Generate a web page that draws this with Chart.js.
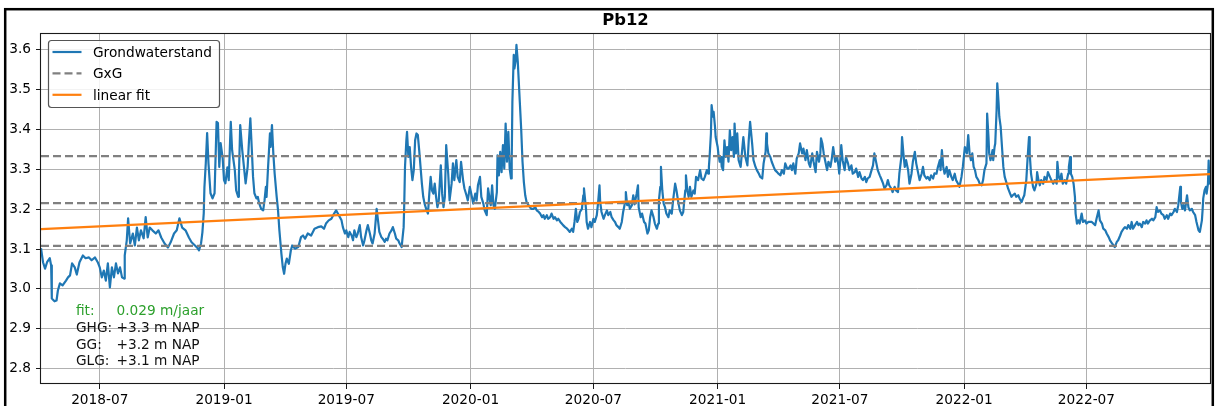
<!DOCTYPE html>
<html>
<head>
<meta charset="utf-8">
<title>Pb12</title>
<script src="https://cdn.jsdelivr.net/npm/chart.js@4.4.1/dist/chart.umd.min.js"></script>
<style>
  html, body { margin: 0; padding: 0; background: #fff; }
  #wrap { position: relative; width: 1215px; height: 406px; overflow: hidden; }
</style>
</head>
<body>
<div id="wrap"><canvas id="chart" width="1215" height="406"></canvas></div>
<script>
(function () {
  'use strict';

  var title = 'Pb12';

  // groundwater level readings (m NAP)
  var dates = [
    '2018-04-05','2018-04-08','2018-04-11','2018-04-14','2018-04-18','2018-04-20','2018-04-21','2018-04-25','2018-04-28','2018-04-30',
    '2018-05-03','2018-05-07','2018-05-12','2018-05-15','2018-05-18','2018-05-21','2018-05-25','2018-05-28',
    '2018-06-01','2018-06-06','2018-06-10','2018-06-15','2018-06-19','2018-06-24','2018-06-28',
    '2018-07-01','2018-07-04','2018-07-07','2018-07-10','2018-07-13','2018-07-16','2018-07-19','2018-07-22','2018-07-25','2018-07-28','2018-07-31',
    '2018-08-03','2018-08-06','2018-08-07','2018-08-10','2018-08-12','2018-08-15','2018-08-19','2018-08-22','2018-08-25','2018-08-28','2018-08-31',
    '2018-09-04','2018-09-07','2018-09-10','2018-09-13','2018-09-17','2018-09-22','2018-09-26','2018-09-30',
    '2018-10-05','2018-10-10','2018-10-14','2018-10-19','2018-10-23','2018-10-27','2018-10-31',
    '2018-11-05','2018-11-10','2018-11-14','2018-11-19','2018-11-22','2018-11-25','2018-11-28','2018-11-30',
    '2018-12-02','2018-12-03','2018-12-05','2018-12-07','2018-12-09','2018-12-12','2018-12-15','2018-12-18','2018-12-21','2018-12-23','2018-12-25','2018-12-27','2018-12-30',
    '2019-01-01','2019-01-03','2019-01-06','2019-01-08','2019-01-11','2019-01-13','2019-01-17','2019-01-19','2019-01-22','2019-01-23','2019-01-25','2019-01-28','2019-01-31',
    '2019-02-02','2019-02-05','2019-02-07','2019-02-09','2019-02-11','2019-02-13','2019-02-15','2019-02-18','2019-02-20','2019-02-22','2019-02-25','2019-02-28',
    '2019-03-02','2019-03-04','2019-03-05','2019-03-07','2019-03-10','2019-03-11','2019-03-13','2019-03-15','2019-03-17','2019-03-20','2019-03-22','2019-03-24','2019-03-27','2019-03-29','2019-03-31',
    '2019-04-02','2019-04-04','2019-04-07','2019-04-10','2019-04-12','2019-04-16','2019-04-21','2019-04-25','2019-04-28',
    '2019-05-01','2019-05-05','2019-05-10','2019-05-15','2019-05-20','2019-05-25','2019-05-29',
    '2019-06-01','2019-06-05','2019-06-09','2019-06-13','2019-06-16','2019-06-20','2019-06-24','2019-06-26','2019-06-29',
    '2019-07-01','2019-07-04','2019-07-06','2019-07-09','2019-07-11','2019-07-13','2019-07-16','2019-07-18','2019-07-21','2019-07-23','2019-07-26','2019-07-28','2019-07-31',
    '2019-08-02','2019-08-05','2019-08-07','2019-08-09','2019-08-12','2019-08-15','2019-08-17','2019-08-19','2019-08-22','2019-08-24','2019-08-27','2019-08-29','2019-08-31',
    '2019-09-03','2019-09-06','2019-09-08','2019-09-11','2019-09-13','2019-09-16','2019-09-18','2019-09-21','2019-09-22','2019-09-24','2019-09-25','2019-09-26','2019-09-28','2019-09-29',
    '2019-10-01','2019-10-03','2019-10-05','2019-10-07','2019-10-09','2019-10-11','2019-10-13','2019-10-15','2019-10-17','2019-10-19','2019-10-21','2019-10-23','2019-10-25','2019-10-28','2019-10-30',
    '2019-11-01','2019-11-03','2019-11-05','2019-11-07','2019-11-09','2019-11-11','2019-11-13','2019-11-15','2019-11-18','2019-11-20','2019-11-22','2019-11-24','2019-11-26','2019-11-29',
    '2019-12-01','2019-12-04','2019-12-06','2019-12-08','2019-12-11','2019-12-13','2019-12-16','2019-12-18','2019-12-21','2019-12-23','2019-12-26','2019-12-28','2019-12-31',
    '2020-01-03','2020-01-05','2020-01-08','2020-01-10','2020-01-12','2020-01-15','2020-01-17','2020-01-20','2020-01-22','2020-01-25','2020-01-27','2020-01-30','2020-01-31',
    '2020-02-02','2020-02-04','2020-02-06','2020-02-09','2020-02-10','2020-02-12','2020-02-14','2020-02-16','2020-02-18','2020-02-20','2020-02-22','2020-02-24','2020-02-26','2020-02-28',
    '2020-03-01','2020-03-02','2020-03-03','2020-03-05','2020-03-06','2020-03-08','2020-03-09','2020-03-11','2020-03-12','2020-03-14','2020-03-16','2020-03-18','2020-03-20','2020-03-22','2020-03-24','2020-03-27','2020-03-29','2020-03-31',
    '2020-04-03','2020-04-06','2020-04-08','2020-04-11','2020-04-13','2020-04-16','2020-04-18','2020-04-20','2020-04-23','2020-04-25','2020-04-28','2020-04-30',
    '2020-05-03','2020-05-05','2020-05-08','2020-05-10','2020-05-13','2020-05-15','2020-05-17','2020-05-20','2020-05-23','2020-05-25','2020-05-27','2020-05-30',
    '2020-06-01','2020-06-03','2020-06-05','2020-06-07','2020-06-09','2020-06-11','2020-06-14','2020-06-16','2020-06-17','2020-06-20','2020-06-21','2020-06-23','2020-06-26','2020-06-28',
    '2020-07-01','2020-07-03','2020-07-06','2020-07-08','2020-07-10','2020-07-11','2020-07-13','2020-07-16','2020-07-18','2020-07-21','2020-07-23','2020-07-26','2020-07-28','2020-07-31',
    '2020-08-02','2020-08-04','2020-08-07','2020-08-09','2020-08-12','2020-08-14','2020-08-17','2020-08-18','2020-08-20','2020-08-22','2020-08-24','2020-08-27','2020-08-29','2020-08-31',
    '2020-09-03','2020-09-05','2020-09-06','2020-09-09','2020-09-11','2020-09-14','2020-09-16','2020-09-19','2020-09-21','2020-09-23','2020-09-25','2020-09-28','2020-09-30',
    '2020-10-03','2020-10-05','2020-10-06','2020-10-08','2020-10-09','2020-10-11','2020-10-13','2020-10-15','2020-10-17','2020-10-20','2020-10-22','2020-10-25','2020-10-27','2020-10-30',
    '2020-11-01','2020-11-04','2020-11-06','2020-11-09','2020-11-11','2020-11-14','2020-11-15','2020-11-17','2020-11-19','2020-11-21','2020-11-23','2020-11-26','2020-11-28','2020-11-30',
    '2020-12-03','2020-12-06','2020-12-08','2020-12-11','2020-12-13','2020-12-16','2020-12-18','2020-12-19','2020-12-20','2020-12-22','2020-12-23','2020-12-25','2020-12-26','2020-12-28','2020-12-29',
    '2021-01-01','2021-01-02','2021-01-04','2021-01-06','2021-01-07','2021-01-09','2021-01-11','2021-01-13','2021-01-15','2021-01-17','2021-01-19','2021-01-21','2021-01-23','2021-01-25','2021-01-26','2021-01-28','2021-01-30',
    '2021-02-01','2021-02-04','2021-02-06','2021-02-08','2021-02-11','2021-02-14','2021-02-16','2021-02-18','2021-02-21','2021-02-23','2021-02-26','2021-02-28',
    '2021-03-03','2021-03-05','2021-03-08','2021-03-10','2021-03-13','2021-03-14','2021-03-15','2021-03-17','2021-03-20','2021-03-22','2021-03-25','2021-03-27','2021-03-30',
    '2021-04-01','2021-04-04','2021-04-06','2021-04-09','2021-04-11','2021-04-14','2021-04-16','2021-04-19','2021-04-21','2021-04-23','2021-04-26','2021-04-28',
    '2021-05-01','2021-05-03','2021-05-06','2021-05-08','2021-05-11','2021-05-13','2021-05-16','2021-05-18','2021-05-21','2021-05-23','2021-05-26','2021-05-28','2021-05-31',
    '2021-06-02','2021-06-03','2021-06-05','2021-06-07','2021-06-09','2021-06-12','2021-06-14','2021-06-17','2021-06-19','2021-06-21','2021-06-23','2021-06-24','2021-06-27','2021-06-29','2021-06-30',
    '2021-07-02','2021-07-03','2021-07-05','2021-07-08','2021-07-10','2021-07-13','2021-07-15','2021-07-18','2021-07-20','2021-07-23','2021-07-25','2021-07-28','2021-07-30',
    '2021-08-02','2021-08-04','2021-08-07','2021-08-09','2021-08-11','2021-08-14','2021-08-16','2021-08-19','2021-08-21','2021-08-24','2021-08-26','2021-08-29','2021-08-31',
    '2021-09-03','2021-09-05','2021-09-08','2021-09-10','2021-09-12','2021-09-15','2021-09-17','2021-09-20','2021-09-22','2021-09-25','2021-09-27','2021-09-30',
    '2021-10-01','2021-10-03','2021-10-05','2021-10-07','2021-10-10','2021-10-12','2021-10-15','2021-10-17','2021-10-20','2021-10-22','2021-10-24','2021-10-27','2021-10-30',
    '2021-11-01','2021-11-03','2021-11-06','2021-11-08','2021-11-11','2021-11-13','2021-11-16','2021-11-18','2021-11-21','2021-11-23','2021-11-26','2021-11-27','2021-11-29',
    '2021-12-01','2021-12-03','2021-12-06','2021-12-08','2021-12-10','2021-12-13','2021-12-15','2021-12-18','2021-12-20','2021-12-23','2021-12-25','2021-12-28','2021-12-30',
    '2022-01-02','2022-01-05','2022-01-07','2022-01-09','2022-01-11','2022-01-13','2022-01-15','2022-01-17','2022-01-19','2022-01-22','2022-01-24','2022-01-27','2022-01-29','2022-01-31',
    '2022-02-03','2022-02-04','2022-02-06','2022-02-07','2022-02-09','2022-02-10','2022-02-12','2022-02-13','2022-02-15','2022-02-16','2022-02-18','2022-02-19','2022-02-21','2022-02-22','2022-02-24','2022-02-26','2022-02-28',
    '2022-03-02','2022-03-05','2022-03-07','2022-03-10','2022-03-12','2022-03-14','2022-03-17','2022-03-19','2022-03-22','2022-03-24','2022-03-27','2022-03-29','2022-03-31',
    '2022-04-03','2022-04-05','2022-04-07','2022-04-08','2022-04-10','2022-04-13','2022-04-15','2022-04-18','2022-04-19','2022-04-21','2022-04-23','2022-04-25','2022-04-28','2022-04-30',
    '2022-05-03','2022-05-05','2022-05-08','2022-05-10','2022-05-13','2022-05-15','2022-05-18','2022-05-19','2022-05-21','2022-05-23','2022-05-25','2022-05-27','2022-05-30',
    '2022-06-01','2022-06-04','2022-06-05','2022-06-07','2022-06-08','2022-06-10','2022-06-12','2022-06-14','2022-06-15','2022-06-17','2022-06-19','2022-06-21','2022-06-24','2022-06-26','2022-06-29',
    '2022-07-01','2022-07-04','2022-07-09','2022-07-14','2022-07-16','2022-07-19','2022-07-21','2022-07-24','2022-07-26','2022-07-29','2022-07-31',
    '2022-08-03','2022-08-05','2022-08-08','2022-08-10','2022-08-12','2022-08-15','2022-08-17','2022-08-20','2022-08-22','2022-08-25','2022-08-27','2022-08-30',
    '2022-09-01','2022-09-04','2022-09-06','2022-09-08','2022-09-11','2022-09-14','2022-09-16','2022-09-18','2022-09-21','2022-09-23','2022-09-26','2022-09-28','2022-09-30',
    '2022-10-03','2022-10-06','2022-10-08','2022-10-11','2022-10-13','2022-10-15','2022-10-18','2022-10-20','2022-10-23','2022-10-25','2022-10-28','2022-10-30',
    '2022-11-02','2022-11-04','2022-11-07','2022-11-09','2022-11-12','2022-11-14','2022-11-17','2022-11-18','2022-11-20','2022-11-22','2022-11-24','2022-11-27','2022-11-29',
    '2022-12-01','2022-12-04','2022-12-06','2022-12-09','2022-12-11','2022-12-14','2022-12-16','2022-12-19','2022-12-20','2022-12-21','2022-12-23','2022-12-25','2022-12-26','2022-12-28','2022-12-29','2022-12-30','2022-12-31'
  ];
  var levels = [
    3.102, 3.067, 3.051, 3.067, 3.077, 3.059, 2.976, 2.969, 2.971, 2.996,
    3.014, 3.009, 3.021, 3.029, 3.034, 3.064, 3.054, 3.036,
    3.067, 3.084, 3.077, 3.079, 3.072, 3.079, 3.067,
    3.054, 3.029, 3.046, 3.021, 3.064, 3.004, 3.054, 3.029, 3.064, 3.039, 3.054,
    3.029, 3.026, 3.084, 3.122, 3.177, 3.114, 3.139, 3.109, 3.154, 3.122, 3.147,
    3.127, 3.180, 3.129, 3.154, 3.147, 3.139, 3.147, 3.129,
    3.114, 3.104, 3.117, 3.139, 3.147, 3.177, 3.154,
    3.147, 3.129, 3.117, 3.109, 3.104, 3.097, 3.114, 3.142,
    3.190, 3.255, 3.315, 3.391, 3.315, 3.240, 3.227, 3.240, 3.419, 3.416, 3.306, 3.366, 3.328,
    3.273, 3.265, 3.305, 3.273, 3.419, 3.348, 3.298, 3.247, 3.231, 3.281, 3.411, 3.348, 3.298,
    3.265, 3.306, 3.373, 3.428, 3.356, 3.281, 3.240, 3.227, 3.231, 3.215, 3.201, 3.197,
    3.222, 3.256, 3.231, 3.298, 3.390, 3.356, 3.411, 3.340, 3.289, 3.231, 3.197, 3.147, 3.088, 3.055, 3.038,
    3.063, 3.076, 3.063, 3.097, 3.109, 3.101, 3.105, 3.130, 3.134,
    3.126, 3.139, 3.134, 3.151, 3.155, 3.157, 3.151,
    3.164, 3.172, 3.176, 3.189, 3.197, 3.185, 3.172, 3.155, 3.139,
    3.147, 3.130, 3.143, 3.134, 3.122, 3.147, 3.130, 3.139, 3.160, 3.130, 3.109, 3.122, 3.147,
    3.160, 3.139, 3.122, 3.114, 3.139, 3.201, 3.172, 3.143, 3.130, 3.126, 3.118, 3.126, 3.122,
    3.139, 3.147, 3.155, 3.139, 3.126, 3.122, 3.114, 3.105, 3.122, 3.155, 3.222, 3.306, 3.373, 3.394,
    3.331, 3.356, 3.306, 3.273, 3.298, 3.373, 3.390, 3.386, 3.348, 3.306, 3.264, 3.231, 3.214, 3.197, 3.189,
    3.239, 3.281, 3.247, 3.239, 3.264, 3.231, 3.205, 3.222, 3.310, 3.239, 3.205, 3.231, 3.361, 3.289,
    3.222, 3.264, 3.315, 3.273, 3.323, 3.281, 3.268, 3.319, 3.273, 3.252, 3.235, 3.222, 3.256,
    3.231, 3.214, 3.239, 3.222, 3.260, 3.281, 3.231, 3.214, 3.197, 3.185, 3.252, 3.218, 3.210,
    3.260, 3.210, 3.201, 3.243, 3.335, 3.285, 3.344, 3.293, 3.361, 3.302, 3.415, 3.319, 3.394, 3.302,
    3.277, 3.319, 3.469, 3.587, 3.553, 3.574, 3.612, 3.570, 3.536, 3.469, 3.402, 3.319, 3.268, 3.235, 3.218, 3.210, 3.205, 3.201,
    3.201, 3.205, 3.197, 3.193, 3.189, 3.180, 3.185, 3.176, 3.185, 3.176, 3.180, 3.189,
    3.176, 3.180, 3.172, 3.176, 3.168, 3.164, 3.160, 3.155, 3.151, 3.147, 3.143, 3.151,
    3.143, 3.168, 3.201, 3.168, 3.176, 3.193, 3.201, 3.235, 3.252, 3.201, 3.168, 3.151, 3.168, 3.155,
    3.176, 3.168, 3.185, 3.218, 3.260, 3.218, 3.193, 3.176, 3.185, 3.197, 3.185, 3.193, 3.180, 3.172,
    3.168, 3.160, 3.155, 3.151, 3.168, 3.193, 3.218, 3.243, 3.210, 3.218, 3.201, 3.210, 3.235, 3.212,
    3.239, 3.260, 3.205, 3.180, 3.189, 3.168, 3.164, 3.139, 3.147, 3.180, 3.197, 3.180, 3.164,
    3.151, 3.164, 3.222, 3.256, 3.306, 3.247, 3.214, 3.205, 3.189, 3.180, 3.197, 3.189, 3.222, 3.264,
    3.247, 3.214, 3.197, 3.185, 3.193, 3.247, 3.285, 3.247, 3.231, 3.256, 3.231, 3.247, 3.239, 3.281,
    3.273, 3.298, 3.277, 3.273, 3.281, 3.298, 3.289, 3.306, 3.331, 3.390, 3.461, 3.432, 3.444, 3.407, 3.381,
    3.356, 3.340, 3.319, 3.331, 3.306, 3.298, 3.373, 3.331, 3.356, 3.319, 3.398, 3.348, 3.381, 3.331, 3.415, 3.340, 3.390,
    3.323, 3.306, 3.344, 3.381, 3.331, 3.310, 3.373, 3.419, 3.365, 3.323, 3.306, 3.298,
    3.289, 3.281, 3.277, 3.315, 3.344, 3.390, 3.365, 3.340, 3.331, 3.319, 3.306, 3.298, 3.293,
    3.289, 3.285, 3.298, 3.289, 3.315, 3.302, 3.302, 3.310, 3.298, 3.315, 3.289, 3.327,
    3.340, 3.365, 3.340, 3.352, 3.323, 3.348, 3.315, 3.306, 3.340, 3.319, 3.293, 3.344, 3.319,
    3.340, 3.378, 3.365, 3.340, 3.323, 3.298, 3.319, 3.306, 3.327, 3.356, 3.331, 3.319, 3.331, 3.306, 3.289,
    3.331, 3.361, 3.323, 3.298, 3.331, 3.315, 3.298, 3.310, 3.289, 3.293, 3.302, 3.281, 3.293,
    3.277, 3.273, 3.281, 3.268, 3.277, 3.281, 3.293, 3.310, 3.340, 3.315, 3.298, 3.285, 3.277,
    3.264, 3.252, 3.260, 3.273, 3.260, 3.252, 3.243, 3.256, 3.247, 3.243, 3.289, 3.331,
    3.381, 3.340, 3.306, 3.323, 3.298, 3.264, 3.289, 3.319, 3.344, 3.315, 3.298, 3.273, 3.289,
    3.306, 3.285, 3.277, 3.281, 3.273, 3.285, 3.277, 3.290, 3.289, 3.305, 3.323, 3.298, 3.348,
    3.306, 3.289, 3.306, 3.281, 3.298, 3.281, 3.273, 3.289, 3.273, 3.264, 3.256, 3.281, 3.306,
    3.356, 3.340, 3.386, 3.340, 3.323, 3.340, 3.306, 3.298, 3.281, 3.273, 3.264, 3.260, 3.273, 3.298,
    3.315, 3.440, 3.381, 3.340, 3.323, 3.331, 3.348, 3.323, 3.356, 3.365, 3.448, 3.516, 3.465, 3.432, 3.407, 3.356, 3.306,
    3.281, 3.264, 3.252, 3.239, 3.231, 3.235, 3.239, 3.231, 3.235, 3.227, 3.218, 3.227, 3.235,
    3.273, 3.331, 3.381, 3.340, 3.289, 3.256, 3.247, 3.264, 3.293, 3.273, 3.260, 3.273, 3.264, 3.281,
    3.273, 3.293, 3.281, 3.273, 3.264, 3.273, 3.264, 3.319, 3.281, 3.273, 3.289, 3.264, 3.273,
    3.264, 3.289, 3.306, 3.331, 3.289, 3.281, 3.264, 3.231, 3.189, 3.164, 3.172, 3.164, 3.189, 3.168, 3.172,
    3.164, 3.168, 3.168, 3.160, 3.176, 3.197, 3.172, 3.164, 3.151, 3.147, 3.139,
    3.130, 3.122, 3.114, 3.109, 3.105, 3.118, 3.122, 3.134, 3.143, 3.151, 3.155, 3.151,
    3.160, 3.151, 3.168, 3.151, 3.160, 3.168, 3.160, 3.164, 3.155, 3.168, 3.164, 3.172, 3.164,
    3.172, 3.176, 3.172, 3.180, 3.205, 3.193, 3.197, 3.189, 3.185, 3.176, 3.185, 3.176,
    3.189, 3.185, 3.193, 3.201, 3.193, 3.210, 3.256, 3.218, 3.201, 3.210, 3.197, 3.235, 3.205,
    3.197, 3.201, 3.193, 3.185, 3.168, 3.147, 3.143, 3.172, 3.197, 3.227, 3.248, 3.256, 3.239, 3.264, 3.322, 3.273, 3.262
  ];

  // GHG / GG / GLG reference levels
  var gxgNames = ['GHG', 'GG', 'GLG'];
  var gxgLevels = [3.333, 3.215, 3.108];

  // trend line end points
  var fitDates = ['2018-04-05', '2022-12-31'];
  var fitLevels = [3.150, 3.288];

  var xRange = ['2018-04-05', '2022-12-31'];
  var yRange = [2.7615, 3.642];
  var xTicks = ['2018-07', '2019-01', '2019-07', '2020-01', '2020-07', '2021-01', '2021-07', '2022-01', '2022-07'];
  var yTicks = [2.8, 2.9, 3.0, 3.1, 3.2, 3.3, 3.4, 3.5, 3.6];

  var FONT = 'DejaVu Sans';
  var YEAR_MS = 365.25 * 86400000;

  function t(s) { return Date.parse(s); }
  function pad(n) { return n < 10 ? '0' + n : '' + n; }

  var xMin = t(xRange[0]);
  var xMax = t(xRange[1]);

  var series = dates.map(function (d, i) { return { x: t(d), y: levels[i] }; });

  var datasets = [{
    label: 'Grondwaterstand',
    data: series,
    borderColor: '#1f77b4',
    borderWidth: 2.2,
    order: 3
  }];
  gxgLevels.forEach(function (v, i) {
    datasets.push({
      label: i === 0 ? 'GxG' : '',
      data: [{ x: xMin, y: v }, { x: xMax, y: v }],
      borderColor: 'gray',
      borderWidth: 2.2,
      borderDash: [8, 4],
      order: 2
    });
  });
  datasets.push({
    label: 'linear fit',
    data: fitDates.map(function (d, i) { return { x: t(d), y: fitLevels[i] }; }),
    borderColor: '#ff7f0e',
    borderWidth: 2.2,
    order: 1
  });

  function roundRect(ctx, x, y, w, h, r) {
    ctx.beginPath();
    ctx.moveTo(x + r, y);
    ctx.lineTo(x + w - r, y);
    ctx.quadraticCurveTo(x + w, y, x + w, y + r);
    ctx.lineTo(x + w, y + h - r);
    ctx.quadraticCurveTo(x + w, y + h, x + w - r, y + h);
    ctx.lineTo(x + r, y + h);
    ctx.quadraticCurveTo(x, y + h, x, y + h - r);
    ctx.lineTo(x, y + r);
    ctx.quadraticCurveTo(x, y, x + r, y);
    ctx.closePath();
  }

  // frame, title, legend box and the text block in the lower left
  var decor = {
    id: 'decor',
    afterDatasetsDraw: function (chart) {
      var ctx = chart.ctx;
      var a = chart.chartArea;
      ctx.save();
      ctx.strokeStyle = '#1a1a1a';
      ctx.lineWidth = 1.1;
      ctx.strokeRect(Math.round(a.left) - 0.5, Math.round(a.top) + 0.5,
        Math.round(a.right - a.left) + 1, Math.round(a.bottom - a.top) - 1);
      ctx.restore();
    },
    afterDraw: function (chart) {
      var ctx = chart.ctx;
      var a = chart.chartArea;
      ctx.save();

      // outer figure border
      ctx.strokeStyle = '#000';
      ctx.lineWidth = 2.5;
      ctx.strokeRect(5.2, 9.2, 1207.6, 440);

      // title
      ctx.fillStyle = '#000';
      ctx.font = 'bold 16.4px "' + FONT + '"';
      ctx.textAlign = 'center';
      ctx.textBaseline = 'alphabetic';
      ctx.fillText(title, (a.left + a.right) / 2, 24.5);

      // legend
      var items = chart.data.datasets.filter(function (ds) { return ds.label; });
      ctx.fillStyle = 'rgba(255,255,255,0.85)';
      ctx.strokeStyle = '#555';
      ctx.lineWidth = 1.2;
      roundRect(ctx, 48.5, 40.5, 171, 67, 3);
      ctx.fill();
      ctx.stroke();
      ctx.font = '13.7px "' + FONT + '"';
      ctx.textAlign = 'left';
      items.forEach(function (ds, i) {
        var base = 57 + i * 21.4;
        ctx.beginPath();
        ctx.strokeStyle = ds.borderColor;
        ctx.lineWidth = ds.borderWidth;
        ctx.setLineDash(ds.borderDash || []);
        ctx.moveTo(52.5, base - 5);
        ctx.lineTo(81.5, base - 5);
        ctx.stroke();
        ctx.setLineDash([]);
        ctx.fillStyle = '#000';
        ctx.fillText(ds.label, 93, base);
      });

      // trend and GxG summary
      var years = (t(fitDates[1]) - t(fitDates[0])) / YEAR_MS;
      var slope = (fitLevels[1] - fitLevels[0]) / years;
      var lines = [{ name: 'fit:', value: slope.toFixed(3) + ' m/jaar', color: '#2ca02c' }];
      gxgNames.forEach(function (n, i) {
        lines.push({ name: n + ':', value: '+' + gxgLevels[i].toFixed(1) + ' m NAP', color: '#111' });
      });
      lines.forEach(function (l, i) {
        var y = 314.7 + i * 16.9;
        ctx.fillStyle = l.color;
        ctx.fillText(l.name, 76, y);
        ctx.fillText(l.value, 116.5, y);
      });

      ctx.restore();
    }
  };

  var tickFont = { family: FONT, size: 13.7 };

  new Chart(document.getElementById('chart'), {
    type: 'line',
    data: { datasets: datasets },
    options: {
      responsive: false,
      animation: false,
      devicePixelRatio: 1,
      layout: { padding: { top: 33, right: 5, left: 0, bottom: 0 } },
      elements: {
        point: { radius: 0, hoverRadius: 0 },
        line: { tension: 0, borderJoinStyle: 'round', fill: false }
      },
      plugins: {
        legend: { display: false },
        tooltip: { enabled: false },
        title: { display: false }
      },
      scales: {
        x: {
          type: 'linear',
          min: xMin,
          max: xMax,
          afterBuildTicks: function (axis) {
            axis.ticks = xTicks.map(function (m) { return { value: t(m + '-01') }; });
          },
          afterFit: function (scale) { scale.height = 22; },
          ticks: {
            autoSkip: false,
            maxRotation: 0,
            padding: 3,
            color: '#000',
            font: tickFont,
            callback: function (v) {
              var d = new Date(v);
              return d.getUTCFullYear() + '-' + pad(d.getUTCMonth() + 1);
            }
          },
          grid: { color: '#b0b0b0', lineWidth: 1, tickLength: 5, tickColor: '#1a1a1a', tickWidth: 1 },
          border: { display: false }
        },
        y: {
          type: 'linear',
          min: yRange[0],
          max: yRange[1],
          afterBuildTicks: function (axis) {
            axis.ticks = yTicks.map(function (v) { return { value: v }; });
          },
          afterFit: function (scale) { scale.width = 41; },
          ticks: {
            padding: 5,
            color: '#000',
            font: tickFont,
            callback: function (v) { return v.toFixed(1); }
          },
          grid: { color: '#b0b0b0', lineWidth: 1, tickLength: 5, tickColor: '#1a1a1a', tickWidth: 1 },
          border: { display: false }
        }
      }
    },
    plugins: [decor]
  });
})();
</script>
</body>
</html>
